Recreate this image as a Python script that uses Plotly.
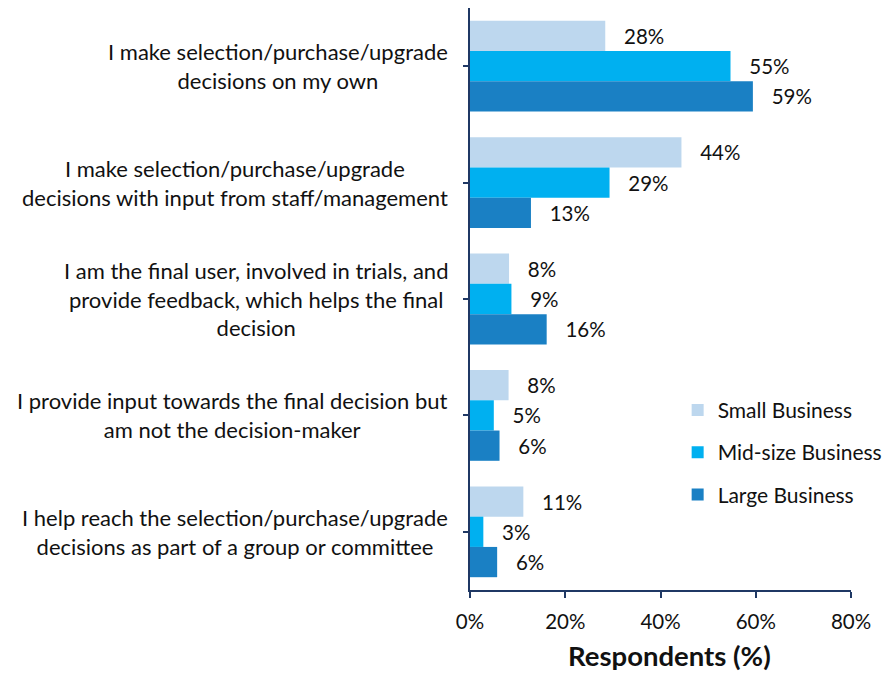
import plotly.graph_objects as go

categories = [
    "I make selection/purchase/upgrade<br>decisions on my own",
    "I make selection/purchase/upgrade<br>decisions with input from staff/management",
    "I am the final user, involved in trials, and<br>provide feedback, which helps the final<br>decision",
    "I provide input towards the final decision but<br>am not the decision-maker",
    "I help reach the selection/purchase/upgrade<br>decisions as part of a group or committee",
]
small_business = [28.4, 44.4, 8.2, 8.1, 11.2]
midsize_business = [54.7, 29.3, 8.7, 5.0, 2.8]
large_business = [59.4, 12.8, 16.1, 6.2, 5.7]
series_names = ["Small Business", "Mid-size Business", "Large Business"]
series_colors = ["#BDD7EE", "#00B0F0", "#1A80C4"]
x_ticks = [0, 20, 40, 60, 80]
x_tick_labels = ["0%", "20%", "40%", "60%", "80%"]
x_title = "Respondents (%)"

FONT = "Lato"
TXT = "#111111"
AXIS = "#1F3864"

fig = go.Figure()
for i, (name, vals, col) in enumerate(zip(series_names,
                                         [small_business, midsize_business, large_business],
                                         series_colors)):
    fig.add_trace(go.Bar(
        y=categories, x=vals, name=name, orientation="h",
        marker=dict(color=col, line=dict(width=0)),
        texttemplate="\u00a0\u00a0\u00a0%{x:.0f}%", textposition="outside",
        textfont=dict(family=FONT, size=20.5, color=TXT),
        cliponaxis=False, legendgroup=f"g{i}",
    ))

# category labels: right-anchored blocks, lines centred (as in the reference)
for cat in categories:
    fig.add_annotation(
        x=0, xref="paper", y=cat, yref="y", text=cat,
        xanchor="right", yanchor="middle", align="center",
        xshift=-20, showarrow=False,
        font=dict(family=FONT, size=22, color=TXT),
    )

# x-axis title
fig.add_annotation(
    x=0.5, xref="paper", y=0, yref="paper", text=f"<b>{x_title}</b>",
    xanchor="center", yanchor="top", xshift=9, yshift=-47, showarrow=False,
    font=dict(family=FONT, size=27.5, color=TXT),
)

fig.update_layout(
    width=893, height=675,
    barmode="group", bargap=0.22, bargroupgap=0,
    plot_bgcolor="white", paper_bgcolor="white",
    margin=dict(l=462, r=50, t=0, b=93),
    font=dict(family=FONT, size=20.5, color=TXT),
    legend=dict(x=0.545, y=0.344, xanchor="left", yanchor="top",
                traceorder="grouped", tracegroupgap=12,
                font=dict(family=FONT, size=21, color=TXT),
                bgcolor="rgba(0,0,0,0)", itemwidth=30),
    showlegend=True,
)
fig.update_xaxes(
    range=[0, 80], tickvals=x_ticks, ticktext=x_tick_labels,
    showgrid=False, zeroline=False,
    showline=True, linecolor=AXIS, linewidth=2,
    ticks="outside", tickcolor=AXIS, tickwidth=2, ticklen=6,
    tickfont=dict(family=FONT, size=20.5, color=TXT),
    ticklabelstandoff=6,
)
fig.update_yaxes(
    autorange="reversed", showgrid=False, zeroline=False,
    showline=True, linecolor=AXIS, linewidth=2,
    ticks="outside", tickcolor=AXIS, tickwidth=2, ticklen=5,
    showticklabels=False,
)
fig.write_html("out.html")
